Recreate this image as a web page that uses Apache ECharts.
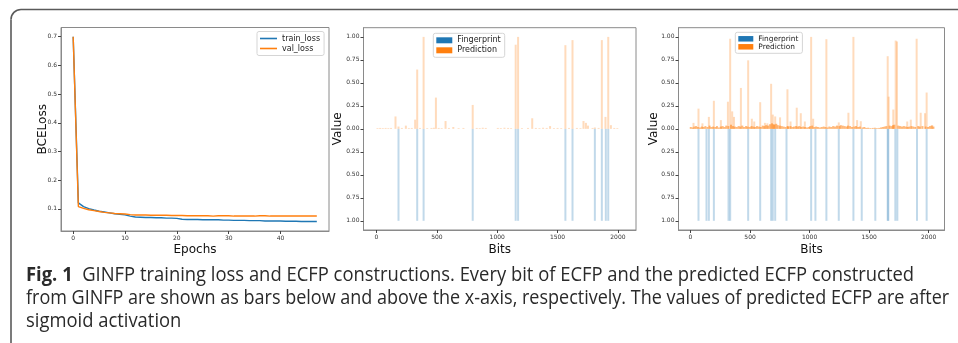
<!DOCTYPE html>
<html>
<head>
<meta charset="utf-8">
<script src="https://cdn.jsdelivr.net/npm/echarts@6/dist/echarts.min.js"></script>
<style>
html,body{margin:0;padding:0;background:#fff;}
#c{width:958px;height:343px;}
</style>
</head>
<body>
<div id="c"></div>
<script>
// ---------- data ----------
const trainLoss = [0.700,0.121,0.108,0.101,0.096,0.092,0.089,0.086,0.083,0.081,0.079,0.075,0.072,0.071,0.070,0.070,0.069,0.069,0.068,0.068,0.067,0.064,0.063,0.063,0.063,0.062,0.062,0.062,0.062,0.061,0.061,0.060,0.060,0.060,0.059,0.059,0.059,0.058,0.058,0.058,0.058,0.057,0.057,0.057,0.056,0.056,0.056,0.056];
const valLoss = [0.700,0.108,0.102,0.097,0.094,0.091,0.088,0.086,0.084,0.083,0.082,0.080,0.079,0.079,0.079,0.078,0.078,0.078,0.078,0.077,0.077,0.077,0.076,0.076,0.076,0.076,0.076,0.075,0.076,0.076,0.076,0.075,0.075,0.075,0.075,0.075,0.076,0.076,0.075,0.075,0.075,0.075,0.075,0.075,0.075,0.075,0.075,0.075];
const epochTicks = [0,10,20,30,40];
const lossTicks = [0.1,0.2,0.3,0.4,0.5,0.6,0.7];
const bitTicks = [0,500,1000,1500,2000];
const valueTicks = [-1,-0.75,-0.5,-0.25,0,0.25,0.5,0.75,1];

const fp2Bits = [182,337,390,797,1153,1173,1565,1624,1809,1867,1900,1920];
const pred2 = [[8,0.008],[30,0.01],[52,0.008],[75,0.01],[98,0.008],[120,0.01],[157,0.135],[182,0.025],[210,0.01],[243,0.035],[268,0.008],[292,0.01],[320,0.10],[337,0.645],[360,0.01],[390,1.0],[420,0.008],[455,0.01],[475,0.012],[492,0.34],[515,0.01],[540,0.008],[572,0.085],[600,0.01],[636,0.02],[680,0.008],[720,0.01],[797,0.26],[830,0.01],[855,0.008],[880,0.012],[905,0.01],[1005,0.01],[1030,0.008],[1060,0.012],[1090,0.01],[1115,0.008],[1153,0.915],[1173,1.0],[1205,0.008],[1255,0.01],[1290,0.115],[1320,0.01],[1350,0.008],[1380,0.012],[1410,0.01],[1438,0.03],[1470,0.008],[1500,0.01],[1530,0.008],[1565,0.91],[1595,0.01],[1624,0.965],[1660,0.01],[1690,0.008],[1715,0.085],[1735,0.065],[1752,0.035],[1790,0.01],[1809,0.015],[1840,0.01],[1867,0.965],[1897,0.13],[1920,1.0],[1942,0.04],[1970,0.01],[1995,0.008]];

const fp3Bits = [67,134,154,196,319,333,484,585,677,691,711,806,1013,1049,1141,1245,1368,1438,1552,1656,1661,1720,1737,1902,1983];
const pred3 = [[25,0.065],[67,0.22],[100,0.06],[154,0.13],[196,0.305],[255,0.095],[314,0.295],[333,0.98],[350,0.19],[365,0.13],[423,0.445],[484,0.745],[515,0.11],[535,0.08],[585,0.29],[625,0.065],[645,0.06],[677,0.49],[691,0.155],[711,0.135],[752,0.125],[814,0.43],[840,0.08],[892,0.23],[926,0.17],[960,0.08],[1013,1.0],[1030,0.11],[1141,0.975],[1245,0.07],[1326,0.175],[1368,1.0],[1399,0.095],[1430,0.083],[1656,0.79],[1664,0.35],[1703,0.21],[1723,0.96],[1734,0.95],[1820,0.08],[1850,0.1],[1899,0.98],[1933,0.175],[1969,0.17],[1983,0.395],[2030,0.04]];
const pred3Base = [[2,0.02],[18,0.015],[33,0.025],[47,0.03],[62,0.02],[80,0.015],[95,0.025],[110,0.02],[125,0.03],[142,0.02],[160,0.035],[175,0.02],[190,0.025],[208,0.02],[222,0.03],[238,0.015],[255,0.025],[270,0.03],[285,0.02],[300,0.035],[318,0.03],[340,0.045],[356,0.03],[372,0.025],[388,0.02],[404,0.03],[418,0.025],[435,0.035],[450,0.02],[466,0.03],[480,0.025],[497,0.02],[512,0.03],[528,0.025],[543,0.02],[558,0.03],[574,0.025],[590,0.02],[606,0.035],[620,0.03],[636,0.04],[652,0.035],[668,0.05],[684,0.06],[698,0.05],[704,0.045],[720,0.055],[733,0.04],[750,0.035],[766,0.03],[782,0.025],[798,0.02],[815,0.03],[822,0.025],[840,0.03],[856,0.02],[870,0.025],[886,0.03],[902,0.025],[915,0.03],[930,0.02],[946,0.025],[962,0.02],[978,0.015],[994,0.02],[1005,0.03],[1022,0.035],[1040,0.02],[1055,0.025],[1070,0.02],[1086,0.015],[1102,0.02],[1118,0.025],[1133,0.02],[1150,0.015],[1166,0.025],[1182,0.02],[1198,0.03],[1214,0.025],[1230,0.035],[1250,0.03],[1262,0.04],[1278,0.035],[1294,0.03],[1310,0.025],[1322,0.035],[1340,0.03],[1356,0.02],[1375,0.025],[1390,0.03],[1408,0.02],[1422,0.025],[1445,0.015],[1460,0.02],[1476,0.01],[1492,0.012],[1510,0.008],[1530,0.01],[1548,0.012],[1565,0.008],[1584,0.01],[1600,0.015],[1615,0.02],[1630,0.025],[1645,0.03],[1672,0.035],[1688,0.03],[1700,0.04],[1712,0.045],[1745,0.035],[1760,0.03],[1776,0.025],[1792,0.03],[1808,0.025],[1824,0.02],[1838,0.025],[1856,0.03],[1872,0.025],[1888,0.02],[1912,0.03],[1925,0.025],[1948,0.03],[1975,0.025],[1995,0.02],[2010,0.03],[2025,0.035],[2040,0.025]];

const captionBold = 'Fig. 1';
const captionLines = [
  '  GINFP training loss and ECFP constructions. Every bit of ECFP and the predicted ECFP constructed',
  'from GINFP are shown as bars below and above the x-axis, respectively. The values of predicted ECFP are after',
  'sigmoid activation'
];

// ---------- chart ----------
const FONT = 'DejaVu Sans';
const BLUE = '#1f77b4', ORANGE = '#ff7f0e';
const AXIS_GRAY = '#8a8a8a';
const chart = echarts.init(document.getElementById('c'), null, {renderer:'canvas'});

function xAxis(idx, min, max, ticks, name, gap) {
  return {
    type:'value', gridIndex: idx, min, max, name,
    nameLocation:'middle', nameGap: gap, nameMoveOverlap:false,
    nameTextStyle:{fontFamily:FONT, fontSize:12, color:'#111'},
    axisLine:{show:true, onZero:false, lineStyle:{color:AXIS_GRAY, width:1}},
    axisTick:{show:true, length:3, customValues:ticks, lineStyle:{color:'#444', width:1}},
    axisLabel:{customValues:ticks, margin:4, fontFamily:FONT, fontSize:6, color:'#333', formatter: v => String(v)},
    splitLine:{show:false}
  };
}
function yAxis(idx, min, max, ticks, name, fmt, gap) {
  return {
    type:'value', gridIndex: idx, min, max, name,
    nameLocation:'middle', nameGap: gap, nameRotate: 90, nameMoveOverlap:false,
    nameTextStyle:{fontFamily:FONT, fontSize:12, color:'#111'},
    axisLine:{show:true, onZero:false, lineStyle:{color:AXIS_GRAY, width:1}},
    axisTick:{show:true, length:3, customValues:ticks, lineStyle:{color:'#444', width:1}},
    axisLabel:{customValues:ticks, margin:4, fontFamily:FONT, fontSize:6, color:'#333', formatter: fmt},
    splitLine:{show:false}
  };
}
const gridStyle = {show:true, borderColor:AXIS_GRAY, borderWidth:1, backgroundColor:'transparent', containLabel:false};
const legendBase = {
  orient:'vertical', padding:[3,4,3,3], itemGap:2,
  borderColor:'#d5d5d5', borderWidth:1, borderRadius:2, backgroundColor:'rgba(255,255,255,0.85)',
  textStyle:{fontFamily:FONT, fontSize:8, color:'#222'}
};
const barFill2 = 'rgba(31,119,180,0.28)';
const barFill1 = 'rgba(255,127,14,0.28)';

const captionRich = {
  b:{fontFamily:'Open Sans', fontWeight:'bold', fontSize:20, fill:'#2a2a2a'},
  r:{fontFamily:'Open Sans', fontWeight:'normal', fontSize:20, fill:'#2a2a2a'}
};
function captionText(y, sx, text) {
  return {type:'text', silent:true, x:26, y:y, scaleX:sx,
    style:{text:text, verticalAlign:'top', align:'left', fill:'#2a2a2a', rich:captionRich}};
}

const option = {
  animation:false,
  grid:[
    Object.assign({left:61, top:27.5, width:268, height:203.5}, gridStyle),
    Object.assign({left:363.5, top:27.7, width:272.5, height:202.3}, gridStyle),
    Object.assign({left:678.5, top:27.7, width:266, height:202.3}, gridStyle)
  ],
  xAxis:[
    xAxis(0, -2.35, 49.35, epochTicks, 'Epochs', 13),
    xAxis(1, -108, 2150, bitTicks, 'Bits', 14),
    xAxis(2, -101, 2133, bitTicks, 'Bits', 14)
  ],
  yAxis:[
    yAxis(0, 0.023, 0.732, lossTicks, 'BCELoss', v => v.toFixed(1), 12),
    yAxis(1, -1.1, 1.1, valueTicks, 'Value', v => Math.abs(v).toFixed(2), 20),
    yAxis(2, -1.1, 1.1, valueTicks, 'Value', v => Math.abs(v).toFixed(2), 19)
  ],
  legend:[
    Object.assign({}, legendBase, {left:257, top:31.5, icon:'rect', itemWidth:17, itemHeight:1.6,
      data:[{name:'train_loss', itemStyle:{color:BLUE}}, {name:'val_loss', itemStyle:{color:ORANGE}}]}),
    Object.assign({}, legendBase, {left:433.3, top:33.3, icon:'rect', itemWidth:16, itemHeight:6,
      data:[{name:'Fingerprint', itemStyle:{color:BLUE}}, {name:'Prediction', itemStyle:{color:ORANGE}}]}),
    Object.assign({}, legendBase, {left:735.3, top:32.3, icon:'rect', itemWidth:15, itemHeight:5.5, itemGap:1,
      textStyle:{fontFamily:FONT, fontSize:7.4, color:'#222'},
      data:[{name:'Fingerprint', itemStyle:{color:BLUE}}, {name:'Prediction', itemStyle:{color:ORANGE}}]})
  ],
  series:[
    {name:'train_loss', type:'line', xAxisIndex:0, yAxisIndex:0, showSymbol:false, symbol:'none',
     data: trainLoss.map((v,i)=>[i,v]), lineStyle:{color:BLUE, width:1.4}, itemStyle:{color:BLUE}},
    {name:'val_loss', type:'line', xAxisIndex:0, yAxisIndex:0, showSymbol:false, symbol:'none',
     data: valLoss.map((v,i)=>[i,v]), lineStyle:{color:ORANGE, width:1.4}, itemStyle:{color:ORANGE}},

    {name:'Fingerprint', type:'bar', xAxisIndex:1, yAxisIndex:1, barWidth:2, barGap:'-100%',
     data: fp2Bits.map(b=>[b,-1]), itemStyle:{color:barFill2}},
    {name:'Prediction', type:'bar', xAxisIndex:1, yAxisIndex:1, barWidth:2, barGap:'-100%',
     data: pred2, itemStyle:{color:barFill1}},

    {name:'Fingerprint', type:'bar', xAxisIndex:2, yAxisIndex:2, barWidth:2, barGap:'-100%',
     data: fp3Bits.map(b=>[b,-1]), itemStyle:{color:barFill2}},
    {name:'Prediction', type:'bar', xAxisIndex:2, yAxisIndex:2, barWidth:2, barGap:'-100%',
     data: pred3, itemStyle:{color:barFill1}},
    {name:'Prediction', type:'bar', xAxisIndex:2, yAxisIndex:2, barWidth:2, barGap:'-100%',
     data: pred3Base, itemStyle:{color:'rgba(255,127,14,0.55)'}}
  ],
  graphic:[
    {type:'line', silent:true, shape:{x1:21, y1:9.5, x2:958, y2:9.5}, style:{stroke:'#5a5a5a', lineWidth:1.6}},
    {type:'line', silent:true, shape:{x1:11, y1:19.5, x2:11, y2:343}, style:{stroke:'#5a5a5a', lineWidth:1.6}},
    {type:'arc', silent:true, shape:{cx:21, cy:19.5, r:10, startAngle:Math.PI, endAngle:Math.PI*1.5}, style:{stroke:'#5a5a5a', lineWidth:1.6, fill:null}},
    captionText(265, 0.92, '{b|' + captionBold + '}{r|' + captionLines[0] + '}'),
    captionText(288.3, 0.9, '{r|' + captionLines[1] + '}'),
    captionText(311.3, 0.92, '{r|' + captionLines[2] + '}')
  ]
};
chart.setOption(option);
</script>
</body>
</html>
